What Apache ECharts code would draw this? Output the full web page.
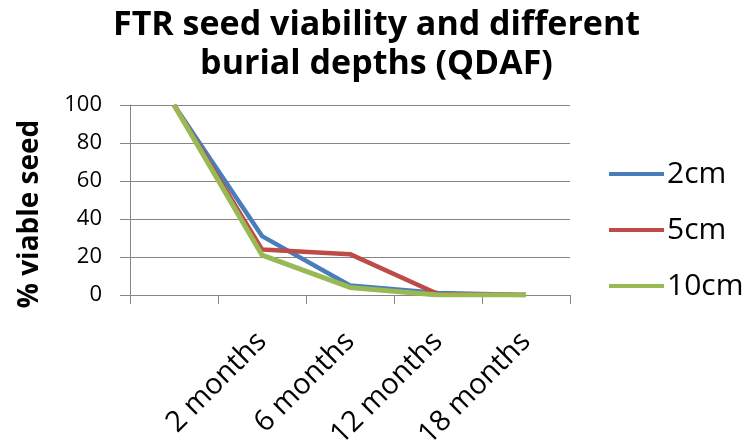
<!DOCTYPE html>
<html>
<head>
<meta charset="utf-8">
<script src="https://cdn.jsdelivr.net/npm/echarts@6/dist/echarts.min.js"></script>
<style>
  html, body { margin: 0; padding: 0; background: #ffffff; }
  #chart { width: 753px; height: 445px; }
</style>
</head>
<body>
<div id="chart"></div>
<script>
// categories along the x axis (first one has no label)
const periods = ['', '2 months', '6 months', '12 months', '18 months'];
// % viable seed per burial depth
const depth2cm = [100, 31, 5, 1, 0];
const depth5cm = [100, 24, 21.5, 0.5, 0];
const depth10cm = [100, 21, 4, 0, 0];
const yTicks = { min: 0, max: 100, interval: 20 };

const gridColor = '#868686';
const fontFamily = '"Open Sans", "Noto Sans", sans-serif';

const chart = echarts.init(document.getElementById('chart'));

const option = {
  animation: false,
  color: ['#4a7ebb', '#be4b48', '#98b954'],
  title: {
    text: 'FTR seed viability and different\nburial depths (QDAF)',
    left: 'center',
    top: 1,
    textStyle: {
      fontFamily,
      fontSize: 34,
      fontWeight: 'bold',
      lineHeight: 39,
      color: '#000000',
    },
  },
  grid: {
    left: 130,
    right: 183,
    top: 105,
    bottom: 150,
    outerBoundsMode: 'none',
  },
  legend: {
    orient: 'vertical',
    left: 604,
    top: 154,
    icon: 'rect',
    itemWidth: 55,
    itemHeight: 4,
    itemGap: 26,
    data: ['2cm', '5cm', '10cm'],
    textStyle: {
      fontFamily,
      fontSize: 30,
      color: '#000000',
      padding: [0, 0, 0, -2],
    },
  },
  xAxis: {
    type: 'category',
    data: periods,
    boundaryGap: true,
    axisLine: { lineStyle: { color: gridColor, width: 1 } },
    axisTick: { show: true, length: 9, lineStyle: { color: gridColor } },
    axisLabel: {
      interval: 0,
      rotate: 45,
      margin: 42,
      fontFamily,
      fontSize: 29,
      color: '#000000',
    },
    splitLine: { show: false },
  },
  yAxis: {
    type: 'value',
    min: yTicks.min,
    max: yTicks.max,
    interval: yTicks.interval,
    name: '% viable seed',
    nameLocation: 'middle',
    nameGap: 86,
    nameTextStyle: {
      fontFamily,
      fontSize: 28,
      fontWeight: 'bold',
      color: '#000000',
      padding: [0, 28, 0, 0],
    },
    axisLine: { show: true, lineStyle: { color: gridColor, width: 1 } },
    axisTick: { show: true, length: 10, lineStyle: { color: gridColor } },
    axisLabel: {
      margin: 28,
      fontFamily,
      fontSize: 22,
      color: '#000000',
    },
    splitLine: { show: true, lineStyle: { color: gridColor, width: 1 } },
  },
  series: [
    {
      name: '2cm',
      type: 'line',
      data: depth2cm,
      symbol: 'none',
      lineStyle: { width: 4.5 },
    },
    {
      name: '5cm',
      type: 'line',
      data: depth5cm,
      symbol: 'none',
      lineStyle: { width: 4.5 },
    },
    {
      name: '10cm',
      type: 'line',
      data: depth10cm,
      symbol: 'none',
      lineStyle: { width: 5 },
    },
  ],
};

chart.setOption(option);
</script>
</body>
</html>
